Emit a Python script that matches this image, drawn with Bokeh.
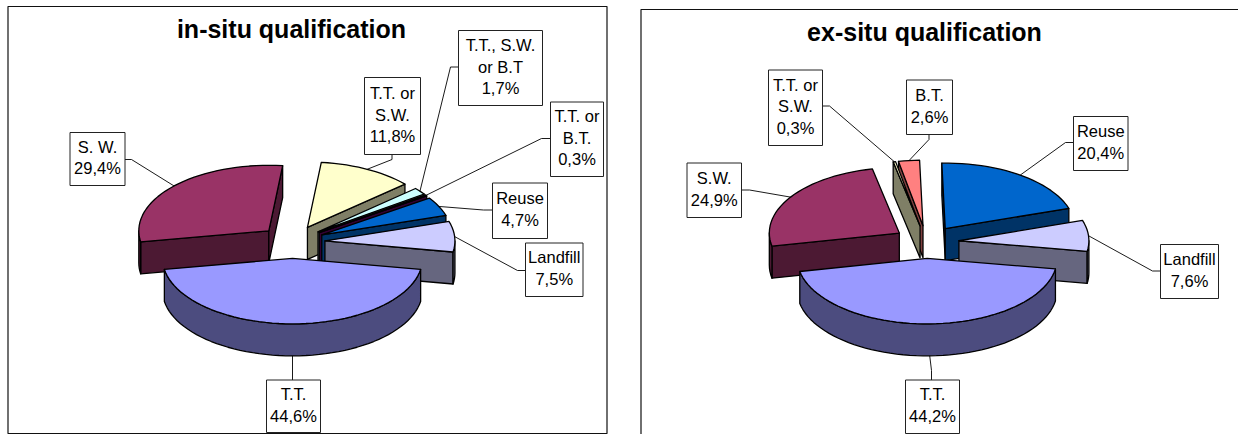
import math

from bokeh.core.properties import value
from bokeh.embed import file_html
from bokeh.models import ColumnDataSource, Range1d
from bokeh.plotting import figure
from bokeh.resources import INLINE

# Shares in percent, clockwise from the first slice
in_situ_names = ["Reuse", "Landfill", "T.T.", "S. W.", "T.T. or\nS.W.", "T.T., S.W.\nor B.T", "T.T. or\nB.T."]
in_situ_shares = [4.7, 7.5, 44.6, 29.4, 11.8, 1.7, 0.3]
in_situ_colors = ["#0066CC", "#CCCCFF", "#9999FF", "#993366", "#FFFFCC", "#CCFFFF", "#660066"]

ex_situ_names = ["Reuse", "Landfill", "T.T.", "S.W.", "T.T. or\nS.W.", "B.T."]
ex_situ_shares = [20.4, 7.6, 44.2, 24.9, 0.3, 2.6]
ex_situ_colors = ["#0066CC", "#CCCCFF", "#9999FF", "#993366", "#FFFFCC", "#FF8080"]

# Pie projection, in page pixels
RX, RY = 130.0, 65.5
DEPTH = 32.0
EXPLODE = 0.25
FONT = "Liberation Sans"

# Label box (left, right, top, bottom) and the elbow of its leader line
in_situ_boxes = [
    ((492, 547, 182.5, 238), ((492, 209.5), (483, 209.5))),
    ((525, 582.5, 242.5, 296), ((525, 270), (517, 270))),
    ((266, 320, 379.5, 432), ((292, 379.5), (292, 379.5))),
    ((69.5, 124.5, 132, 185), ((124.5, 159), (131, 159))),
    ((364, 420, 77, 154), ((391.5, 154), (391.5, 159))),
    ((458, 542, 30, 105), ((458, 66.5), (450, 66.5))),
    ((550, 603, 101.5, 176), ((550, 138), (541, 138))),
]
ex_situ_boxes = [
    ((1073, 1127.5, 116, 170), ((1073, 142), (1065, 142))),
    ((1160, 1218, 244, 298), ((1160, 270.5), (1152, 270.5))),
    ((905, 959, 379.5, 433), ((931, 379.5), (931, 370))),
    ((686.5, 741, 162.5, 217), ((741, 189.5), (749, 189.5))),
    ((768, 822, 69.5, 145), ((822, 105.5), (829, 105.5))),
    ((906, 952, 79.5, 134), ((928.5, 134), (928.5, 139))),
]


def darker(color):
    r, g, b = (int(color[i:i + 2], 16) for i in (1, 3, 5))
    return "#%02X%02X%02X" % (r // 2, g // 2, b // 2)


def rim(t):
    rad = math.radians(t)
    return RX * math.sin(rad), -RY * math.cos(rad)


def arc_angles(a, b):
    n = max(2, int(abs(b - a) / 3) + 2)
    return [a + (b - a) * i / (n - 1) for i in range(n)]


def build_pie(cx, cy, start, shares, colors):
    """Return patches in back-to-front order and the rim anchor of each slice."""
    slices = []
    angle = start
    for share, color in zip(shares, colors):
        a, b = angle, angle + share * 3.6
        angle = b
        mid = math.radians((a + b) / 2)
        ax = cx + EXPLODE * RX * math.sin(mid)
        ay = cy - EXPLODE * RY * math.cos(mid)
        slices.append((-math.cos(mid), a, b, ax, ay, color))

    xs, ys, fills = [], [], []
    anchors = []
    for _, a, b, ax, ay, _c in slices:
        dx, dy = rim((a + b) / 2)
        anchors.append((ax + dx, ay + dy + (DEPTH if 90 < (a + b) / 2 < 270 else 0)))

    for _, a, b, ax, ay, color in sorted(slices, key=lambda s: s[0]):
        side = darker(color)
        # Radial walls that face the viewer
        for t, facing in ((a, math.sin(math.radians(a)) < 0), (b, math.sin(math.radians(b)) > 0)):
            if facing:
                dx, dy = rim(t)
                xs.append([ax, ax + dx, ax + dx, ax])
                ys.append([ay, ay + dy, ay + dy + DEPTH, ay + DEPTH])
                fills.append(side)
        # Outer wall on the front half of the rim
        lo, hi = max(a, 90), min(b, 270)
        if lo < hi:
            arc = [rim(t) for t in arc_angles(lo, hi)]
            xs.append([ax + p[0] for p in arc] + [ax + p[0] for p in reversed(arc)])
            ys.append([ay + p[1] for p in arc] + [ay + p[1] + DEPTH for p in reversed(arc)])
            fills.append(side)
        # Top face
        arc = [rim(t) for t in arc_angles(a, b)]
        xs.append([ax] + [ax + p[0] for p in arc])
        ys.append([ay] + [ay + p[1] for p in arc])
        fills.append(color)
    return xs, ys, fills, anchors


p = figure(
    width=1238,
    height=434,
    x_range=Range1d(0, 1238),
    y_range=Range1d(434, 0),
    output_backend="svg",
    toolbar_location=None,
    min_border=0,
    outline_line_color=None,
)
p.axis.visible = False
p.grid.visible = False


def draw_chart(title, title_x, title_y, frame, cx, cy, start, names, shares, colors, boxes):
    left, right, top, bottom = frame
    p.quad(left=[left], right=[right], top=[top], bottom=[bottom],
           fill_color="white", line_color="#111111", line_width=1.2)

    xs, ys, fills, anchors = build_pie(cx, cy, start, shares, colors)
    p.patches(xs="xs", ys="ys", fill_color="fills", line_color="black", line_width=1.3,
              line_join="round",
              source=ColumnDataSource(dict(xs=xs, ys=ys, fills=fills)))

    leader_x, leader_y = [], []
    for (_, elbow), anchor in zip(boxes, anchors):
        leader_x.append([elbow[0][0], elbow[1][0], anchor[0]])
        leader_y.append([elbow[0][1], elbow[1][1], anchor[1]])
    p.multi_line(leader_x, leader_y, line_color="black", line_width=0.9)

    p.quad(left=[b[0][0] for b in boxes], right=[b[0][1] for b in boxes],
           top=[b[0][2] for b in boxes], bottom=[b[0][3] for b in boxes],
           fill_color="white", line_color="#222222", line_width=1)

    tx, ty, tt = [], [], []
    for name, share, (box, _) in zip(names, shares, boxes):
        lines = name.split("\n") + [f"{share:.1f}%".replace(".", ",")]
        mid_x = (box[0] + box[1]) / 2
        mid_y = (box[2] + box[3]) / 2 - 1.5
        for i, line in enumerate(lines):
            tx.append(mid_x)
            ty.append(mid_y + (i - (len(lines) - 1) / 2) * 21.6)
            tt.append(line)
    p.text(tx, ty, text=tt, text_font=value(FONT), text_font_size="16.5px",
           text_align="center", text_baseline="middle", text_color="black")

    p.text([title_x], [title_y], text=[title], text_font=value(FONT), text_font_size="25px",
           text_font_style="bold", text_align="center", text_baseline="middle", text_color="black")


draw_chart("in-situ qualification", 291, 28, (7.5, 606.5, 6, 433), 292, 241.5, 55.8,
           in_situ_names, in_situ_shares, in_situ_colors, in_situ_boxes)
draw_chart("ex-situ qualification", 924, 31, (640.5, 1250, 9, 450), 926, 241.5, -1.5,
           ex_situ_names, ex_situ_shares, ex_situ_colors, ex_situ_boxes)

open("out.html", "w").write(file_html(p, INLINE))
